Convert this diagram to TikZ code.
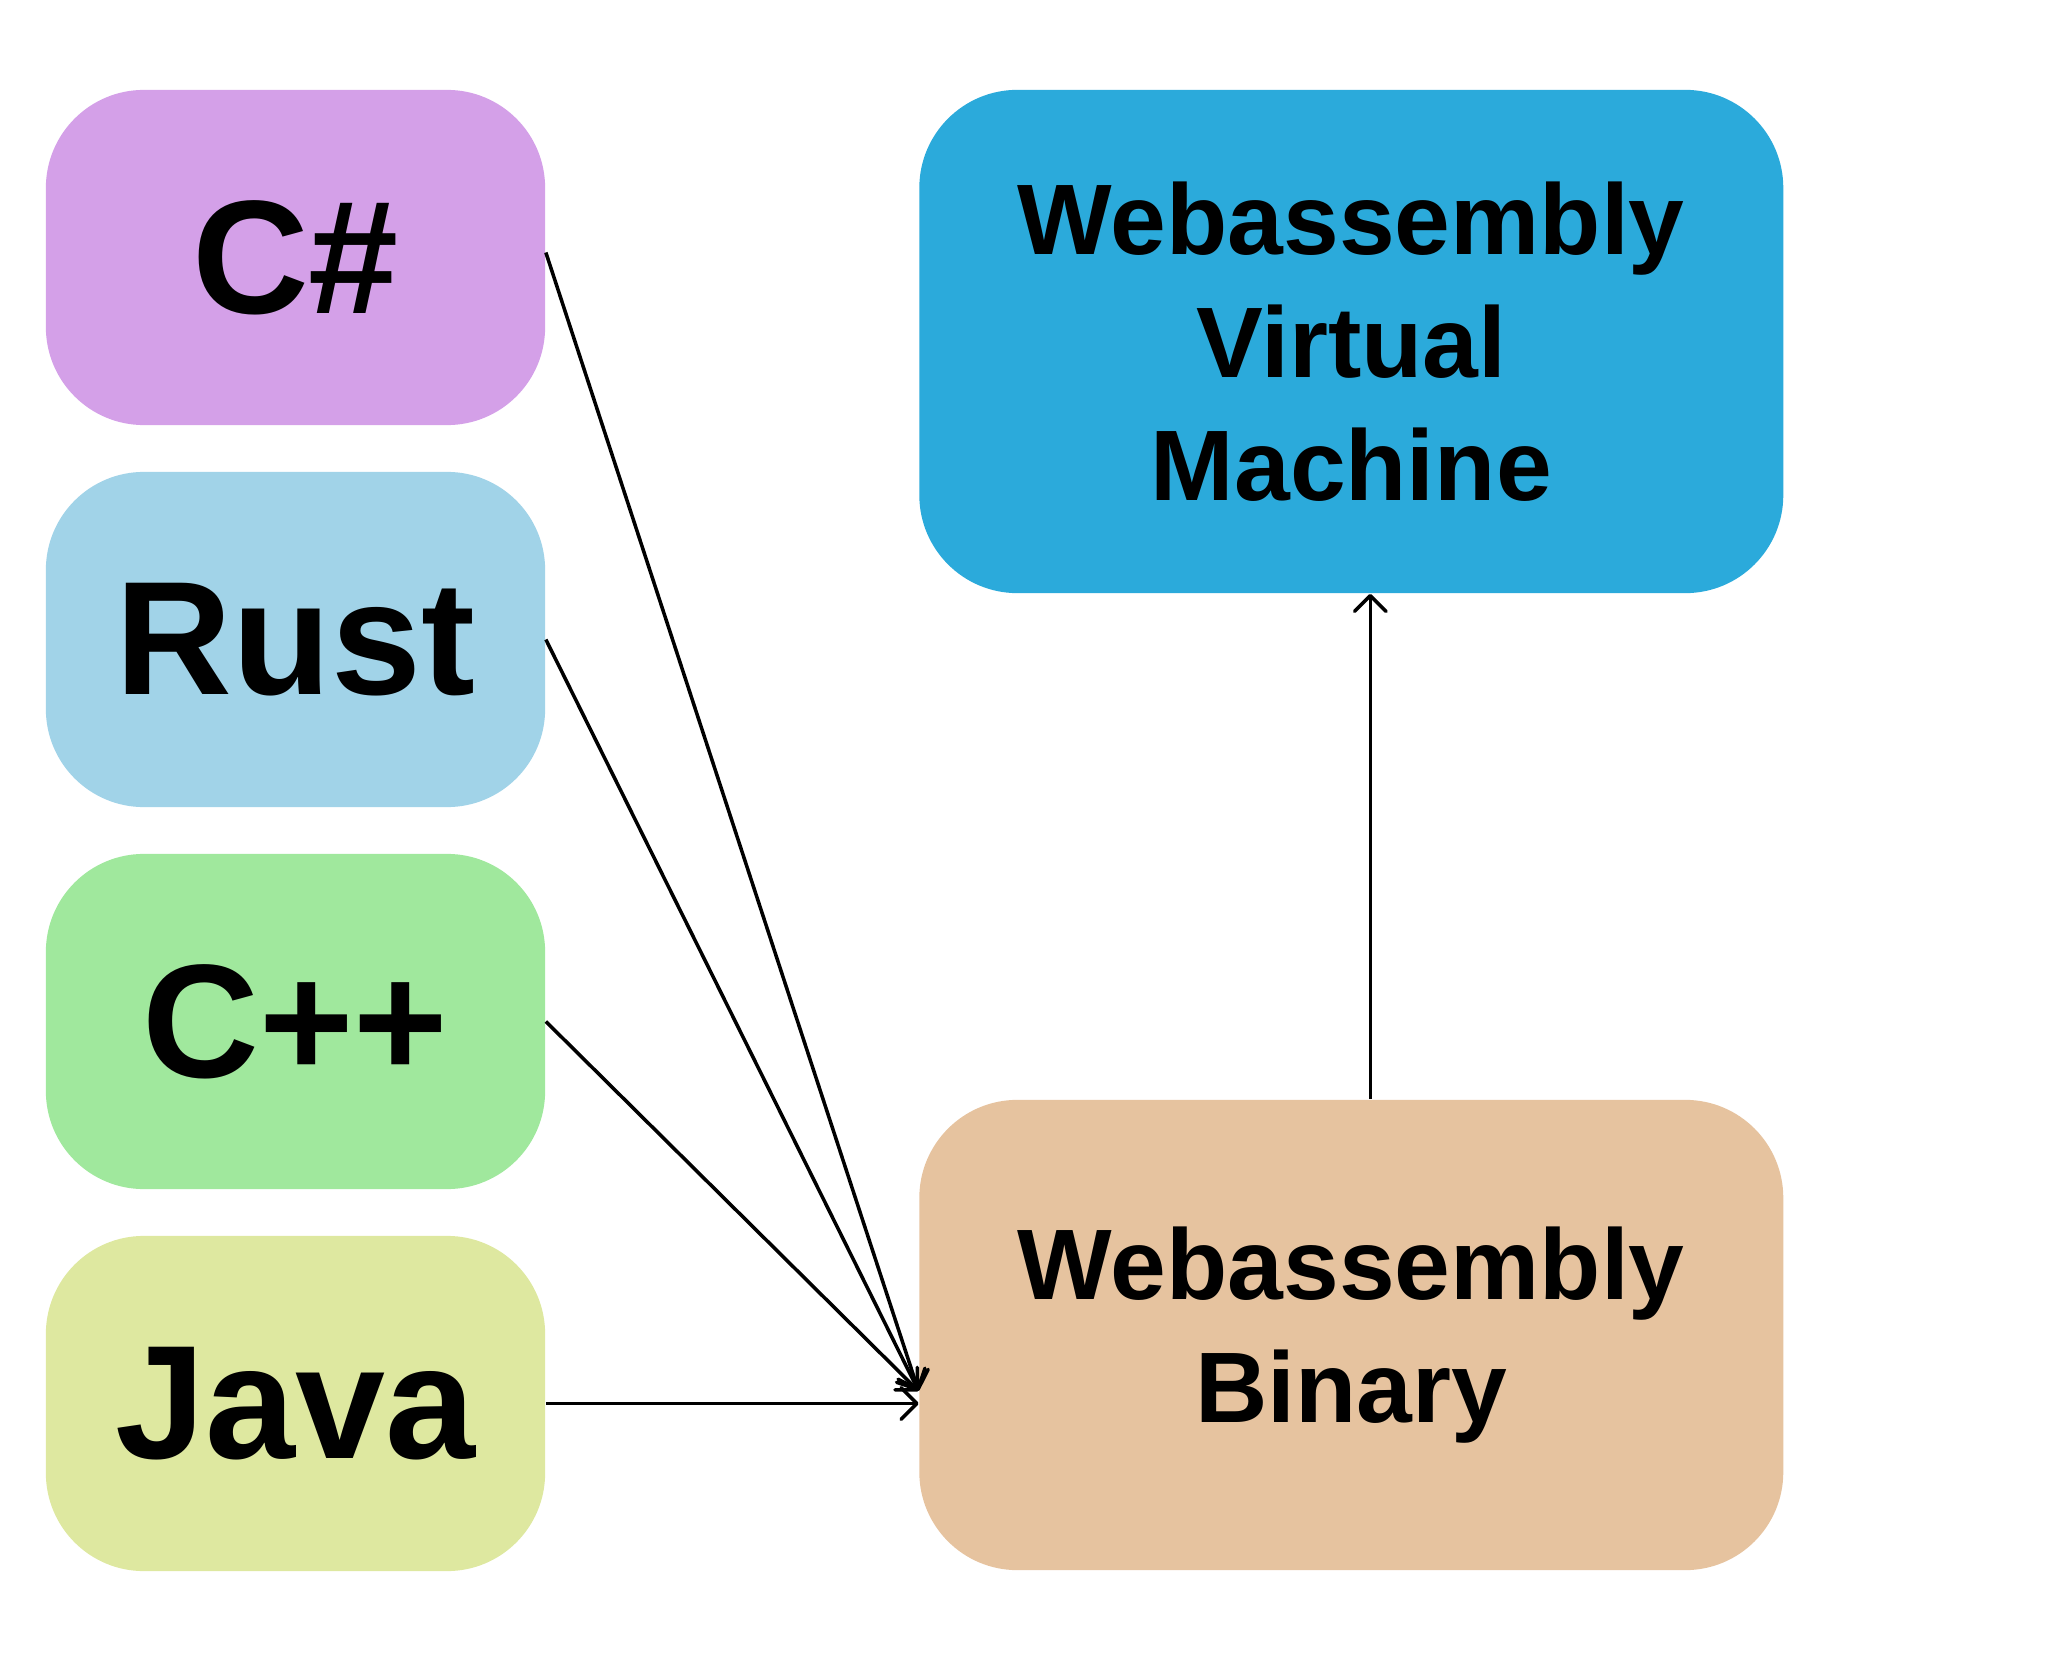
\documentclass[tikz,border=0pt]{standalone}
\usepackage{fontspec}
\setmainfont{Liberation Sans}
\usetikzlibrary{arrows.meta}

\definecolor{csharp}{HTML}{D4A0E8}
\definecolor{rustc}{HTML}{A1D3E8}
\definecolor{cppc}{HTML}{A0E89D}
\definecolor{javac}{HTML}{DEE8A0}
\definecolor{vmc}{HTML}{2BAADB}
\definecolor{binc}{HTML}{E6C39F}

\begin{document}
\begin{tikzpicture}[x=0.01cm, y=-0.01cm,
  lang/.style={shape=rectangle, rounded corners=0.98cm, minimum width=4.99cm, minimum height=3.35cm, inner sep=0pt, font=\bfseries\fontsize{46}{55}\selectfont},
  wasm/.style={shape=rectangle, rounded corners=0.98cm, minimum width=8.635cm, inner sep=0pt, align=center, font=\bfseries\fontsize{28.5}{35}\selectfont},
  flow/.style={-{Straight Barb[length=4.5pt, width=9pt, round]}, line width=1pt}]
\useasboundingbox (0,0) rectangle (2048,1664);

\node[lang, fill=csharp] (cs) at (295.5, 257.5) {C\#};
\node[lang, fill=rustc] (rust) at (295.5, 639.5) {Rust};
\node[lang, fill=cppc] (cpp) at (295.5, 1021.5) {C++};
\node[lang, fill=javac] (java) at (295.5, 1403.5) {Java};

\node[wasm, fill=vmc, minimum height=5.03cm] (wvm) at (1351.3, 341.5) {Webassembly\\Virtual\\Machine};
\node[wasm, fill=binc, minimum height=4.7cm] (wb) at (1351.3, 1335) {Webassembly\\Binary};

\coordinate (sink) at ([yshift=-0.56cm]wb.west);

\path[flow] ([yshift=0.05cm]cs.east) edge (sink);
\path[flow] (rust.east) edge (sink);
\path[flow] (cpp.east) edge (sink);
\path[flow] (java.east) edge (java.east -| wb.west);

\path[flow] ([xshift=0.19cm]wb.north) edge ([xshift=0.19cm]wvm.south);

\end{tikzpicture}
\end{document}
